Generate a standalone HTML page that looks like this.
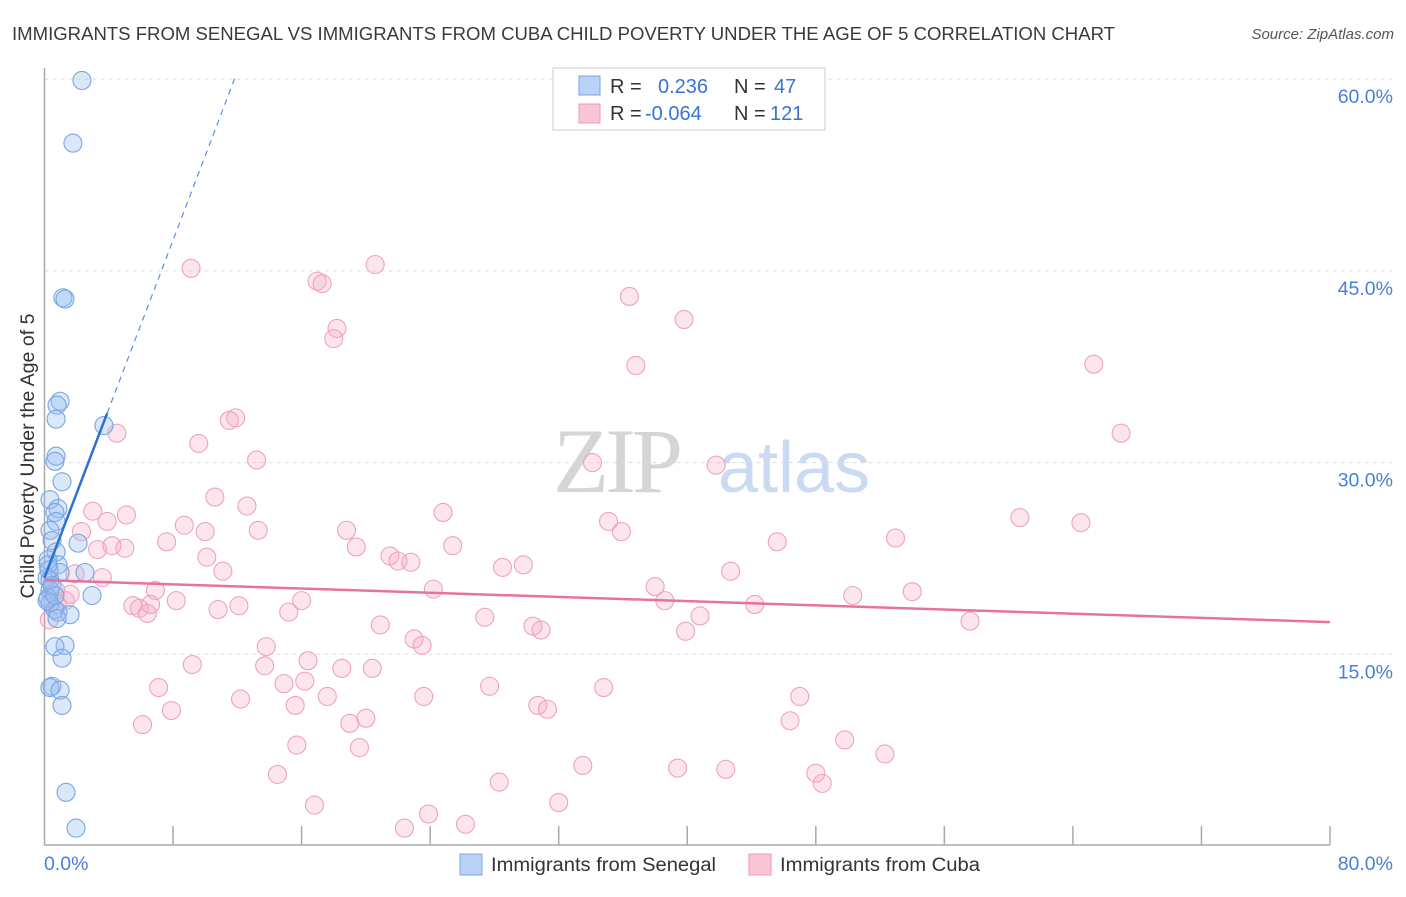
<!DOCTYPE html>
<html><head><meta charset="utf-8"><style>
body{margin:0;background:#fff;font-family:"Liberation Sans",sans-serif}
</style></head><body>
<svg id="chart" width="1406" height="892" xmlns="http://www.w3.org/2000/svg" font-family="Liberation Sans, sans-serif">
<text x="12" y="40" font-size="18" fill="#3a3a3a" textLength="1103" lengthAdjust="spacingAndGlyphs">IMMIGRANTS FROM SENEGAL VS IMMIGRANTS FROM CUBA CHILD POVERTY UNDER THE AGE OF 5 CORRELATION CHART</text>
<text x="1394" y="39" font-size="15" fill="#555" font-style="italic" text-anchor="end">Source: ZipAtlas.com</text>
<g>
<text x="553" y="492" font-size="92" fill="#d5d5d5" font-family="Liberation Serif, serif" letter-spacing="-4">ZIP</text>
<text x="718" y="492" font-size="72" fill="#c9daf2">atlas</text>
</g>
<g id="grid"></g><g id="axes"></g><g id="marks"></g><g id="trend"></g>
<g>
<rect x="553" y="68" width="272" height="62" fill="#fff" stroke="#ccc"/>
<rect x="579" y="76" width="21" height="19" fill="#b8d3f5" stroke="#7aa6e6"/>
<rect x="579" y="104" width="21" height="19" fill="#f9c6d6" stroke="#ee9ab5"/>
<text x="610" y="93" font-size="20" fill="#333">R =</text>
<text x="658" y="93" font-size="20" fill="#3b73d1">0.236</text>
<text x="734" y="93" font-size="20" fill="#333">N =</text>
<text x="774" y="93" font-size="20" fill="#3b73d1">47</text>
<text x="610" y="120" font-size="20" fill="#333">R =</text>
<text x="645" y="120" font-size="20" fill="#3b73d1">-0.064</text>
<text x="734" y="120" font-size="20" fill="#333">N =</text>
<text x="770" y="120" font-size="20" fill="#3b73d1">121</text>
</g>
<g>
<rect x="460" y="854" width="22" height="21" fill="#b8d3f5" stroke="#7aa6e6"/>
<text x="491" y="871" font-size="19" fill="#333" textLength="225" lengthAdjust="spacingAndGlyphs">Immigrants from Senegal</text>
<rect x="749" y="854" width="22" height="21" fill="#f9c6d6" stroke="#ee9ab5"/>
<text x="780" y="871" font-size="19" fill="#333" textLength="200" lengthAdjust="spacingAndGlyphs">Immigrants from Cuba</text>
</g>
<text transform="translate(34,456) rotate(-90)" font-size="19" fill="#333" text-anchor="middle" textLength="285" lengthAdjust="spacingAndGlyphs">Child Poverty Under the Age of 5</text>
</svg>
<script>
const yTicks=[15,30,45,60];
const yTickLabels=["15.0%","30.0%","45.0%","60.0%"];
const xLabels=["0.0%","80.0%"];
const senegalX=[2.33,1.77,1.15,1.28,0.97,0.78,0.72,3.70,0.72,0.65,1.09,0.34,0.84,0.65,0.72,0.34,0.47,2.09,0.72,0.22,0.84,2.52,0.97,0.16,0.34,2.96,0.22,0.34,0.65,0.84,1.59,1.28,0.65,1.09,0.47,0.34,0.97,1.09,1.34,1.96,0.22,0.34,0.47,0.16,0.65,0.28,0.78];
const senegalY=[59.9,55.0,42.9,42.8,34.8,34.5,33.4,32.9,30.5,30.1,28.5,27.1,26.4,26.1,25.4,24.7,23.9,23.7,23.0,22.4,22.0,21.4,21.4,21.0,20.0,19.6,19.4,19.0,18.5,18.3,18.1,15.7,15.6,14.7,12.5,12.4,12.2,11.0,4.2,1.4,22.0,20.8,20.4,19.2,19.6,21.6,17.8];
const cubaX=[9.12,16.97,17.28,20.58,36.4,39.8,18.2,18.0,36.8,65.3,67.0,11.9,11.5,4.5,9.6,13.2,34.1,41.8,10.6,12.6,3.0,5.1,3.9,24.8,8.7,10.0,13.3,18.8,35.1,35.9,60.7,64.5,2.3,7.6,3.3,4.2,5.0,10.1,19.4,25.4,21.5,22.0,22.8,45.6,52.96,11.1,28.5,29.8,42.7,1.9,3.6,24.2,38.0,6.9,8.2,5.5,5.9,6.4,6.6,10.8,12.1,16.0,15.2,38.6,44.2,50.3,54.0,57.6,27.4,20.9,30.4,30.9,40.8,39.9,23.0,23.5,13.8,9.2,13.7,16.4,18.5,20.4,16.2,14.9,7.1,27.7,34.8,12.2,17.6,23.6,47.0,15.6,7.9,30.7,31.3,6.1,19.0,20.0,46.4,15.7,19.6,49.8,52.3,14.5,33.5,39.4,42.4,48.0,48.4,28.3,16.8,32.0,23.9,26.2,22.4,1.3,1.6,0.7,0.8,0.3];
const cubaY=[45.2,44.2,44.0,45.5,43.0,41.2,40.5,39.7,37.6,37.7,32.3,33.5,33.3,32.3,31.5,30.2,30.0,29.8,27.3,26.6,26.2,25.9,25.4,26.1,25.1,24.6,24.7,24.7,25.4,24.6,25.7,25.3,24.6,23.8,23.2,23.5,23.3,22.6,23.4,23.5,22.7,22.3,22.2,23.8,24.1,21.5,21.8,22.0,21.5,21.3,21.0,20.1,20.3,20.0,19.2,18.8,18.6,18.2,18.9,18.5,18.8,19.2,18.3,19.2,18.9,19.6,19.9,17.6,17.9,17.3,17.2,16.9,18.0,16.8,16.2,15.7,15.6,14.2,14.1,14.5,13.9,13.9,12.9,12.7,12.4,12.5,12.4,11.5,11.7,11.7,11.7,11.0,10.6,11.0,10.7,9.5,9.6,10.0,9.8,7.9,7.7,8.3,7.2,5.6,6.3,6.1,6.0,5.7,4.9,5.0,3.2,3.4,2.5,1.7,1.4,19.2,19.7,20.0,18.9,17.7];
const senegalTrend=[21.0,3.3];   // intercept, slope
const cubaTrend=[20.8,-0.041];
const NS="http://www.w3.org/2000/svg";
const X0=44.5,X1=1330,Y0=846,PY=12.78;
const sx=v=>X0+v*(X1-X0)/80, sy=v=>Y0-v*PY;
function mk(tag,attrs,parent){const e=document.createElementNS(NS,tag);for(const k in attrs)e.setAttribute(k,attrs[k]);document.getElementById(parent).appendChild(e);return e;}
yTicks.forEach((t,i)=>{
 const g=mk('line',{x1:X0,x2:1394,y1:sy(t),y2:sy(t),stroke:'#ddd','stroke-dasharray':'4,4'},'grid');
 
 
 const l=mk('text',{x:1393,y:sy(t)+24,'font-size':19.5,fill:'#4a7fd8','text-anchor':'end'},'axes');
 l.textContent=yTickLabels[i];
 
 
});
const ax=mk('path',{d:`M${X0},68V${845}H${X1}`,stroke:'#aaa',fill:'none','stroke-width':1.5},'axes');


for(let i=1;i<=10;i++){const t=mk('line',{x1:sx(i*8),x2:sx(i*8),y1:826,y2:845,stroke:'#aaa','stroke-width':1.5},'axes');
 
 }
[[0,'start',44],[80,'end',1393]].forEach((d,i)=>{const l=mk('text',{x:d[2],y:870,'font-size':19.5,fill:'#4a7fd8','text-anchor':d[1]},'axes');l.textContent=xLabels[i];
 
 });
cubaX.forEach((x,i)=>{const c=mk('circle',{cx:sx(x),cy:sy(cubaY[i]),r:9,fill:'rgba(246,170,195,0.3)',stroke:'#efa3bb','stroke-width':1.1},'marks');
 
 });
senegalX.forEach((x,i)=>{const c=mk('circle',{cx:sx(x),cy:sy(senegalY[i]),r:9,fill:'rgba(150,190,240,0.35)',stroke:'#78a5e5','stroke-width':1.1},'marks');
 
 });
const sb=x=>senegalTrend[0]+senegalTrend[1]*x, cb=x=>cubaTrend[0]+cubaTrend[1]*x;
let l1=mk('line',{x1:sx(0),y1:sy(sb(0)),x2:sx(3.9),y2:sy(sb(3.9)),stroke:'#2f6fd6','stroke-width':2.5},'trend');


let l2=mk('line',{x1:sx(3.9),y1:sy(sb(3.9)),x2:sx(11.9),y2:sy(sb(11.9)),stroke:'#5a8fe0','stroke-width':1.2,'stroke-dasharray':'6,5'},'trend');


let l3=mk('line',{x1:sx(0),y1:sy(cb(0)),x2:sx(80),y2:sy(cb(80)),stroke:'#e8739a','stroke-width':2.5},'trend');


</script>
</body></html>
